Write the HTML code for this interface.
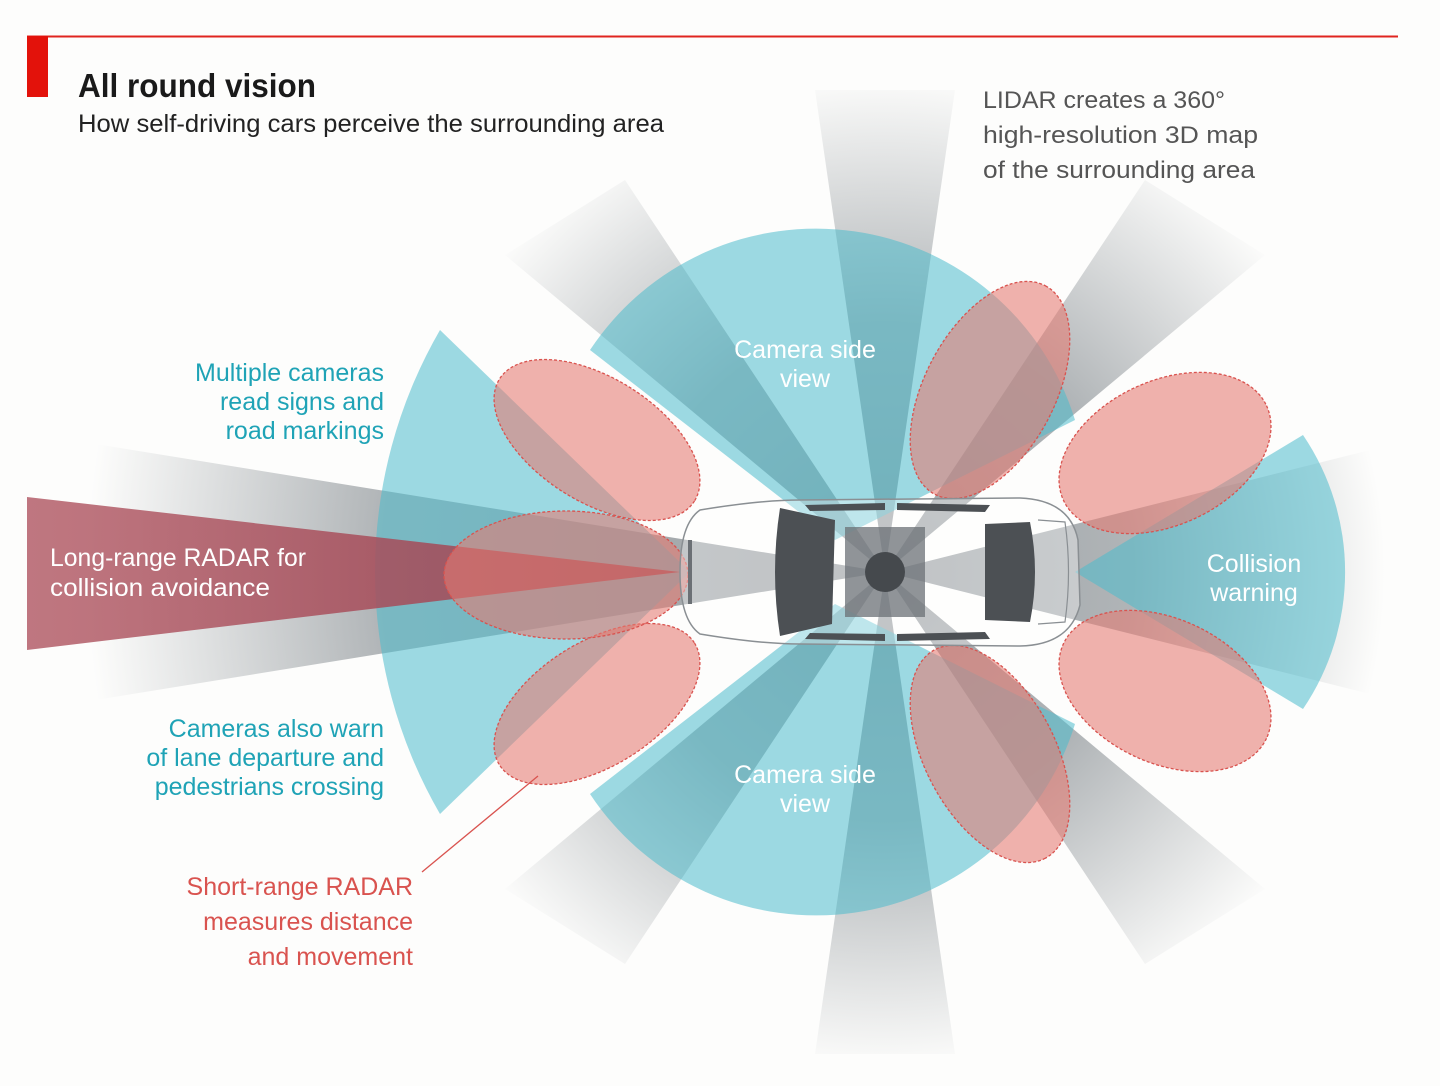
<!DOCTYPE html>
<html><head><meta charset="utf-8"><style>
html,body{margin:0;padding:0;background:#fdfdfc;}
svg{display:block;}
text{font-family:"Liberation Sans Narrow","Liberation Sans",sans-serif;}
</style></head><body>
<svg width="1440" height="1086" viewBox="0 0 1440 1086" xmlns="http://www.w3.org/2000/svg">
<defs>
<radialGradient id="gg" gradientUnits="userSpaceOnUse" cx="885" cy="572" r="500">
<stop offset="0" stop-color="#7d8489" stop-opacity="0.75"/>
<stop offset="0.5" stop-color="#7d8489" stop-opacity="0.6"/>
<stop offset="1" stop-color="#7d8489" stop-opacity="0"/>
</radialGradient>
<radialGradient id="gl" gradientUnits="userSpaceOnUse" cx="885" cy="572" r="840">
<stop offset="0" stop-color="#7d8489" stop-opacity="0.75"/>
<stop offset="0.6" stop-color="#7d8489" stop-opacity="0.6"/>
<stop offset="0.95" stop-color="#7d8489" stop-opacity="0"/>
</radialGradient>
<linearGradient id="rr" x1="0" x2="1" y1="0" y2="0">
<stop offset="0" stop-color="#b45f6a"/>
<stop offset="1" stop-color="#9c3d4c"/>
</linearGradient>
</defs>
<rect width="1440" height="1086" fill="#fdfdfc"/>
<line x1="27" y1="36.5" x2="1398" y2="36.5" stroke="#e0251f" stroke-width="2"/>
<rect x="27" y="36" width="21" height="61" fill="#e3120b"/>
<text x="78" y="97" font-size="33" font-weight="bold" fill="#1a1a1a" textLength="238" lengthAdjust="spacingAndGlyphs">All round vision</text>
<text x="78" y="132" font-size="25" fill="#222" textLength="586" lengthAdjust="spacingAndGlyphs">How self-driving cars perceive the surrounding area</text>

<g>
<path d="M885 572 L815 90 L955 90 Z" fill="url(#gg)"/>
<path d="M885 572 L815 1054 L955 1054 Z" fill="url(#gg)"/>
<path d="M885 572 L505 255 L625 180 Z" fill="url(#gg)"/>
<path d="M885 572 L505 889 L625 964 Z" fill="url(#gg)"/>
<path d="M885 572 L1145 180 L1265 255 Z" fill="url(#gg)"/>
<path d="M885 572 L1145 964 L1265 889 Z" fill="url(#gg)"/>
<path d="M885 572 L1390 445 L1390 699 Z" fill="url(#gg)"/>
<path d="M885 572 L40 435 L40 709 Z" fill="url(#gl)"/>
</g>

<g fill="#4cbccc" fill-opacity="0.55">
<path d="M835 540 L590 350 A271 271 0 0 1 1075 420 Z"/>
<path d="M835 604 L590 794 A271 271 0 0 0 1075 724 Z"/>
<path d="M690 572 L440 330 A483 483 0 0 0 440 814 Z"/>
<path d="M1075 572 L1303 435 A244 244 0 0 1 1303 709 Z"/>
</g>

<path d="M680 572 L27 497 L27 650 Z" fill="url(#rr)" fill-opacity="0.85"/>

<g fill="#e57a72" fill-opacity="0.58" stroke="#d9534f" stroke-width="1.3" stroke-dasharray="3 2">
<ellipse cx="597" cy="440" rx="115" ry="62" transform="rotate(32 597 440)"/>
<ellipse cx="597" cy="704" rx="115" ry="62" transform="rotate(-32 597 704)"/>
<ellipse cx="566" cy="575" rx="122" ry="64"/>
<ellipse cx="990" cy="390" rx="118" ry="65" transform="rotate(-62 990 390)"/>
<ellipse cx="990" cy="754" rx="118" ry="65" transform="rotate(62 990 754)"/>
<ellipse cx="1165" cy="453" rx="112" ry="72" transform="rotate(-25 1165 453)"/>
<ellipse cx="1165" cy="691" rx="112" ry="72" transform="rotate(25 1165 691)"/>
</g>

<g>
<path d="M700 510 Q760 500 800 500 L1020 498 Q1070 500 1078 540 L1080 605 Q1070 645 1020 646 L800 644 Q760 644 700 634 Q680 620 680 572 Q680 524 700 510 Z" fill="#ffffff" fill-opacity="0.35" stroke="#8a8f93" stroke-width="1.5"/>
<path d="M780 508 L835 520 L832 624 L780 636 Q770 572 780 508 Z" fill="#4c5054"/>
<path d="M985 524 L1030 522 Q1040 572 1030 622 L985 620 Z" fill="#4c5054"/>
<path d="M805 505 L885 503 L885 510 L810 511 Z" fill="#4c5054"/>
<path d="M897 503 L990 505 L985 512 L897 510 Z" fill="#4c5054"/>
<path d="M805 639 L885 641 L885 634 L810 633 Z" fill="#4c5054"/>
<path d="M897 641 L990 639 L985 632 L897 634 Z" fill="#4c5054"/>
<rect x="845" y="527" width="80" height="90" fill="#6b7075" fill-opacity="0.75"/>
<circle cx="885" cy="572" r="20" fill="#45494d"/>
<path d="M1038 520 L1065 522 Q1072 572 1065 622 L1038 624" fill="none" stroke="#8a8f93" stroke-width="1.2"/>
<path d="M690 540 L690 604" stroke="#6b7075" stroke-width="4"/>
</g>

<line x1="422" y1="872" x2="538" y2="776" stroke="#d9534f" stroke-width="1.3"/>

<g font-size="24" fill="#555">
<text x="983" y="108" textLength="242" lengthAdjust="spacingAndGlyphs">LIDAR creates a 360°</text>
<text x="983" y="143" textLength="275" lengthAdjust="spacingAndGlyphs">high-resolution 3D map</text>
<text x="983" y="178" textLength="272" lengthAdjust="spacingAndGlyphs">of the surrounding area</text>
</g>
<g font-size="25" fill="#1fa3b6" text-anchor="end">
<text x="384" y="381">Multiple cameras</text>
<text x="384" y="410">read signs and</text>
<text x="384" y="439">road markings</text>
<text x="384" y="737">Cameras also warn</text>
<text x="384" y="766">of lane departure and</text>
<text x="384" y="795">pedestrians crossing</text>
</g>
<g font-size="25" fill="#d9534f" text-anchor="end">
<text x="413" y="895">Short-range RADAR</text>
<text x="413" y="930">measures distance</text>
<text x="413" y="965">and movement</text>
</g>
<g font-size="25" fill="#ffffff" text-anchor="middle">
<text x="805" y="358">Camera side</text>
<text x="805" y="387">view</text>
<text x="805" y="783">Camera side</text>
<text x="805" y="812">view</text>
<text x="1254" y="572">Collision</text>
<text x="1254" y="601">warning</text>
</g>
<g font-size="25" fill="#ffffff">
<text x="50" y="566" textLength="256" lengthAdjust="spacingAndGlyphs">Long-range RADAR for</text>
<text x="50" y="596" textLength="220" lengthAdjust="spacingAndGlyphs">collision avoidance</text>
</g>
</svg>
</body></html>
